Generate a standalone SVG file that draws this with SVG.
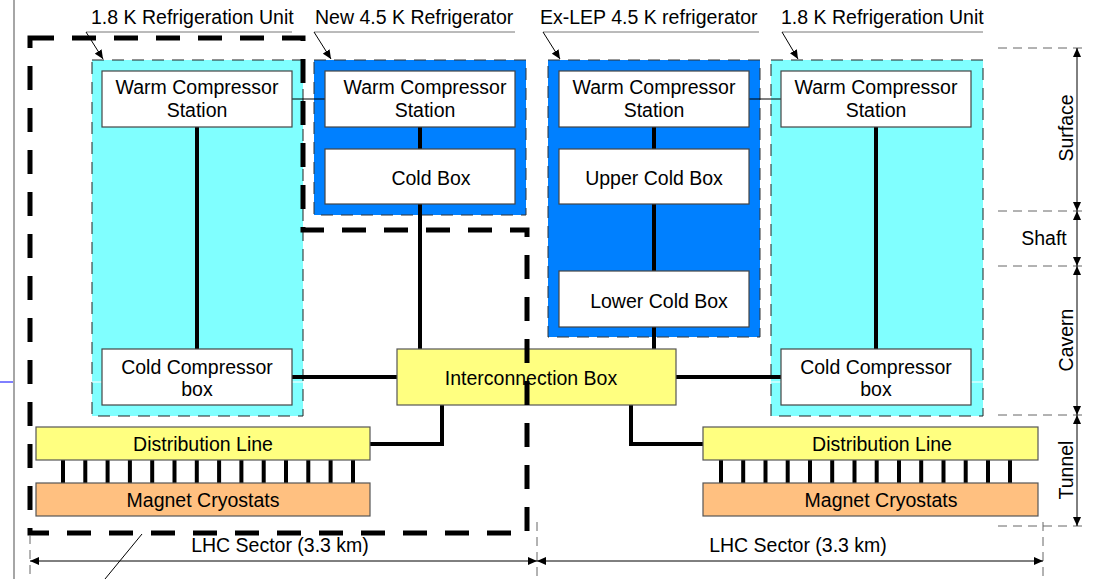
<svg xmlns="http://www.w3.org/2000/svg" width="1104" height="579" viewBox="0 0 1104 579">
<defs>
<marker id="arr" markerUnits="userSpaceOnUse" markerWidth="9" markerHeight="8" refX="9" refY="4" orient="auto-start-reverse"><path d="M0,0 L9,4 L0,8 z" fill="#000"/></marker>
<marker id="arrs" markerUnits="userSpaceOnUse" markerWidth="9" markerHeight="8" refX="9" refY="4" orient="auto"><path d="M0,0 L9,4 L0,8 z" fill="#000"/></marker>
</defs>
<style>
text{font-family:"Liberation Sans",Arial,sans-serif;font-size:19.5px;fill:#000}
.m{text-anchor:middle}
.cyan{fill:#80ffff;stroke:#222;stroke-width:1;stroke-dasharray:12 8}
.blue{fill:#0080ff;stroke:#333;stroke-width:1;stroke-dasharray:12 8}
.wb{fill:#fff;stroke:#444;stroke-width:1.2}
.yb{fill:#ffff80;stroke:#555;stroke-width:1.2}
.ob{fill:#ffc080;stroke:#555;stroke-width:1.2}
.thick{stroke:#000;stroke-width:4;fill:none}
.thin{stroke:#000;stroke-width:1;fill:none}
.gl{stroke:#777;stroke-width:1;fill:none}
.gd{stroke:#666;stroke-width:1;fill:none;stroke-dasharray:9 6}
.outline{stroke:#000;stroke-width:5;fill:none;stroke-dasharray:24 18}
</style>
<rect width="1104" height="579" fill="#fff"/>
<line x1="14" y1="0" x2="14" y2="579" stroke="#888" stroke-width="1.5"/>
<line x1="0" y1="382" x2="13" y2="382" stroke="#00f" stroke-width="1"/>

<g id="unit-left">
<rect class="cyan" x="92" y="60" width="211" height="356"/>
<line x1="92" y1="382" x2="303" y2="382" stroke="#fff" stroke-width="1"/>
</g>
<g id="ref-new">
<rect class="blue" x="314" y="60" width="212" height="155"/>
</g>
<g id="ref-exlep">
<rect class="blue" x="548" y="60" width="212" height="277"/>
</g>
<g id="unit-right">
<rect class="cyan" x="771" y="60" width="212" height="356"/>
<line x1="771" y1="382" x2="983" y2="382" stroke="#fff" stroke-width="1"/>
</g>

<g id="connectors">
<line class="thin" x1="292" y1="99" x2="325" y2="99"/>
<line class="thin" x1="749" y1="99" x2="781" y2="99"/>
<line class="thick" x1="197" y1="127" x2="197" y2="349"/>
<line class="thick" x1="876" y1="127" x2="876" y2="349"/>
<line class="thick" x1="420" y1="127" x2="420" y2="149"/>
<line class="thick" x1="420" y1="204" x2="420" y2="349"/>
<line class="thick" x1="654" y1="127" x2="654" y2="149"/>
<line class="thick" x1="654" y1="204" x2="654" y2="271"/>
<line class="thick" x1="654" y1="327" x2="654" y2="349"/>
<line class="thick" x1="292" y1="377" x2="397" y2="377"/>
<line class="thick" x1="676" y1="377" x2="781" y2="377"/>
<polyline class="thick" points="442,405 442,444 370,444"/>
<polyline class="thick" points="631,405 631,444 703,444"/>
<g class="thick">
<path d="M63,460V483M85.3,460V483M107.6,460V483M129.9,460V483M152.2,460V483M174.5,460V483M196.8,460V483M219.1,460V483M241.4,460V483M263.7,460V483M286,460V483M308.3,460V483M330.6,460V483M353,460V483"/>
<path d="M721,460V483M743.2,460V483M765.5,460V483M787.7,460V483M810,460V483M832.2,460V483M854.5,460V483M876.7,460V483M899,460V483M921.2,460V483M943.5,460V483M965.7,460V483M988,460V483M1010,460V483"/>
</g>
</g>

<g id="wcs-left"><rect class="wb" x="102" y="71" width="190" height="56"/><text class="m" x="197" y="94">Warm Compressor</text><text class="m" x="197" y="117">Station</text></g>
<g id="ccb-left"><rect class="wb" x="102" y="349" width="190" height="56"/><text class="m" x="197" y="374">Cold Compressor</text><text class="m" x="197" y="396">box</text></g>
<g id="wcs-new"><rect class="wb" x="325" y="71" width="190" height="56"/><text class="m" x="425" y="94">Warm Compressor</text><text class="m" x="425" y="117">Station</text></g>
<g id="coldbox-new"><rect class="wb" x="325" y="149" width="190" height="55"/><text class="m" x="431" y="185">Cold Box</text></g>
<g id="wcs-exlep"><rect class="wb" x="559" y="71" width="190" height="56"/><text class="m" x="654" y="94">Warm Compressor</text><text class="m" x="654" y="117">Station</text></g>
<g id="uppercb"><rect class="wb" x="559" y="149" width="190" height="55"/><text class="m" x="654" y="185">Upper Cold Box</text></g>
<g id="lowercb"><rect class="wb" x="559" y="271" width="190" height="56"/><text class="m" x="659" y="308">Lower Cold Box</text></g>
<g id="wcs-right"><rect class="wb" x="781" y="71" width="190" height="56"/><text class="m" x="876" y="94">Warm Compressor</text><text class="m" x="876" y="117">Station</text></g>
<g id="ccb-right"><rect class="wb" x="781" y="349" width="190" height="56"/><text class="m" x="876" y="374">Cold Compressor</text><text class="m" x="876" y="396">box</text></g>
<g id="interconnection"><rect class="yb" x="397" y="349" width="279" height="56"/><text class="m" x="531" y="385">Interconnection Box</text></g>
<g id="dl-left"><rect class="yb" x="36" y="427" width="334" height="33"/><text class="m" x="203" y="451">Distribution Line</text></g>
<g id="mc-left"><rect class="ob" x="36" y="483" width="334" height="33"/><text class="m" x="203" y="507">Magnet Cryostats</text></g>
<g id="dl-right"><rect class="yb" x="703" y="427" width="335" height="33"/><text class="m" x="882" y="451">Distribution Line</text></g>
<g id="mc-right"><rect class="ob" x="703" y="483" width="335" height="33"/><text class="m" x="881" y="507">Magnet Cryostats</text></g>

<g id="outline-sector">
<path class="outline" d="M30,38 H303 V230 H527 V533 H30 Z"/>
<line class="thin" x1="142" y1="534" x2="105" y2="579"/>
</g>

<g id="labels-top">
<text x="91" y="24">1.8 K Refrigeration Unit</text>
<line class="gl" x1="86" y1="32" x2="292" y2="32"/>
<line class="thin" x1="86" y1="32" x2="103" y2="59" marker-end="url(#arrs)"/>
<text x="315" y="24">New 4.5 K Refrigerator</text>
<line class="gl" x1="314" y1="32" x2="515" y2="32"/>
<line class="thin" x1="314" y1="32" x2="331" y2="59" marker-end="url(#arrs)"/>
<text x="540" y="24">Ex-LEP 4.5 K refrigerator</text>
<line class="gl" x1="543" y1="32" x2="759" y2="32"/>
<line class="thin" x1="543" y1="32" x2="560" y2="59" marker-end="url(#arrs)"/>
<text x="781" y="24">1.8 K Refrigeration Unit</text>
<line class="gl" x1="782" y1="32" x2="983" y2="32"/>
<line class="thin" x1="782" y1="32" x2="798" y2="59" marker-end="url(#arrs)"/>
</g>

<g id="levels">
<line class="gd" x1="998" y1="48" x2="1085" y2="48"/>
<line class="gd" x1="998" y1="211" x2="1085" y2="211"/>
<line class="gd" x1="998" y1="266" x2="1085" y2="266"/>
<line class="gd" x1="998" y1="415" x2="1085" y2="415"/>
<line class="gd" x1="998" y1="526" x2="1085" y2="526"/>
<line class="thin" x1="1077" y1="48" x2="1077" y2="211" marker-start="url(#arr)" marker-end="url(#arr)"/>
<line class="thin" x1="1077" y1="211" x2="1077" y2="266" marker-start="url(#arr)" marker-end="url(#arr)"/>
<line class="thin" x1="1077" y1="266" x2="1077" y2="415" marker-start="url(#arr)" marker-end="url(#arr)"/>
<line class="thin" x1="1077" y1="415" x2="1077" y2="526" marker-start="url(#arr)" marker-end="url(#arr)"/>
<text class="m" transform="translate(1073,128) rotate(-90)">Surface</text>
<text class="m" x="1044" y="245">Shaft</text>
<text class="m" transform="translate(1073,340) rotate(-90)">Cavern</text>
<text class="m" transform="translate(1073,470) rotate(-90)">Tunnel</text>
</g>

<g id="sectors">
<line class="gd" x1="30" y1="535" x2="30" y2="579"/>
<line class="gd" x1="537" y1="522" x2="537" y2="579"/>
<line class="gd" x1="1043" y1="522" x2="1043" y2="579"/>
<line class="thin" x1="30" y1="561" x2="537" y2="561" marker-start="url(#arr)" marker-end="url(#arr)"/>
<line class="thin" x1="537" y1="561" x2="1043" y2="561" marker-start="url(#arr)" marker-end="url(#arr)"/>
<text class="m" x="280" y="552">LHC Sector (3.3 km)</text>
<text class="m" x="798" y="552">LHC Sector (3.3 km)</text>
</g>
</svg>
